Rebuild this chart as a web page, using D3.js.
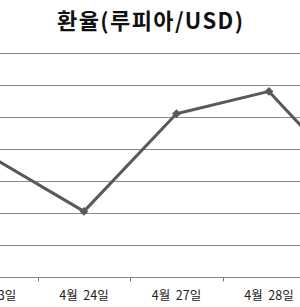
<!DOCTYPE html>
<html>
<head>
<meta charset="utf-8">
<script src="https://cdn.jsdelivr.net/npm/d3@7"></script>
<style>
  html, body { margin: 0; padding: 0; background: #fff; overflow: hidden; }
  svg { display: block; }
</style>
</head>
<body>
<script>
(function(){
    // chart data (the picture is a crop, so first and last dates sit off the edges)
    var dates = ["4월 23일", "4월 24일", "4월 27일", "4월 28일", "4월 29일"];
    var rates = [12915, 12881, 12942, 12956, 12894];
    var yTicks = [12840, 12860, 12880, 12900, 12920, 12940, 12960, 12980];

    var width = 300, height = 307;

    var svg = d3.select("body").append("svg")
        .attr("width", width)
        .attr("height", height);

    // title
    svg.append("text")
        .attr("x", 150)
        .attr("y", 29)
        .attr("text-anchor", "middle")
        .attr("font-family", "'Noto Sans CJK KR', sans-serif")
        .attr("font-weight", "bold")
        .attr("font-size", 22)
        .attr("textLength", 186)
        .attr("lengthAdjust", "spacing")
        .attr("fill", "#111")
        .text("환율(루피아/USD)");

    // scales: plot area is wider than the window
    var x = d3.scaleBand()
        .domain(dates)
        .range([-54.8, 407.7]);

    var y = d3.scaleLinear()
        .domain([12840, 12980])
        .range([277, 53]);

    // gridlines
    svg.append("g")
        .selectAll("line")
        .data(yTicks)
        .enter()
        .append("line")
        .attr("x1", 0)
        .attr("x2", width)
        .attr("y1", d => Math.round(y(d)) + 0.5)
        .attr("y2", d => Math.round(y(d)) + 0.5)
        .attr("stroke", "#8a8a8a")
        .attr("stroke-width", 1);

    // x axis with ticks between categories
    var xAxis = svg.append("g")
        .attr("transform", "translate(0," + (Math.round(y(12840)) + 0.5) + ")");

    xAxis.selectAll(".tick")
        .data(dates.slice(1))
        .enter()
        .append("line")
        .attr("x1", d => Math.round(x(d)) + 0.5)
        .attr("x2", d => Math.round(x(d)) + 0.5)
        .attr("y1", 0)
        .attr("y2", 4)
        .attr("stroke", "#777");

    xAxis.selectAll("text")
        .data(dates)
        .enter()
        .append("text")
        .attr("x", d => x(d) + x.bandwidth() / 2)
        .attr("y", 22)
        .attr("text-anchor", "middle")
        .attr("font-family", "'Noto Sans CJK KR', sans-serif")
        .attr("font-size", 12.5)
        .attr("fill", "#222")
        .attr("xml:space", "preserve")
        .style("white-space", "pre")
        .text(d => d.replace(" ", "  "));

    // line
    var line = d3.line()
        .x((d, i) => x(dates[i]) + x.bandwidth() / 2)
        .y(d => y(d));

    svg.append("path")
        .datum(rates)
        .attr("d", line)
        .attr("fill", "none")
        .attr("stroke", "#595959")
        .attr("stroke-width", 3)
        .attr("stroke-linejoin", "round");

    // diamond markers
    svg.append("g")
        .selectAll("path")
        .data(rates)
        .enter()
        .append("path")
        .attr("transform", (d, i) => "translate(" + (x(dates[i]) + x.bandwidth() / 2) + "," + y(d) + ")")
        .attr("d", d3.symbol().type(d3.symbolDiamond2).size(50))
        .attr("fill", "#595959");
})();
</script>
</body>
</html>
